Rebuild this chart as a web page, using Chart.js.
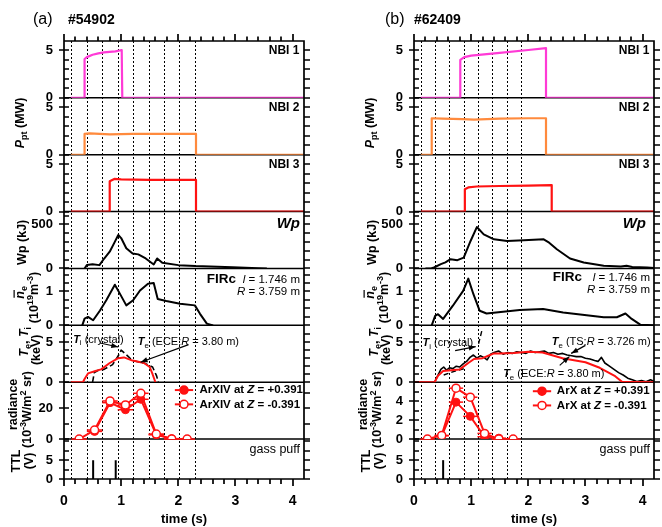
<!DOCTYPE html>
<html>
<head>
<meta charset="utf-8">
<title>Discharge waveforms #54902 and #62409</title>
<script src="https://cdn.jsdelivr.net/npm/chart.js@4.4.1/dist/chart.umd.min.js"></script>
<style>
  html, body { margin: 0; padding: 0; background: #fff; }
  #fig { position: relative; width: 662px; height: 527px; overflow: hidden; }
  #fig canvas { position: absolute; top: 0; }
</style>
</head>
<body>
<div id="fig">
  <canvas id="colA" width="331" height="527" style="left:0"></canvas>
  <canvas id="colB" width="331" height="527" style="left:331px"></canvas>
</div>
<script>
const FONT = '"Liberation Sans", Arial, Helvetica, sans-serif';
const MAGENTA = '#ff3ad6', ORANGE = '#ff8a3d', RED = '#ff1212';

// ---------- axes ----------
const timeLabels = [0, 1, 2, 3, 4];
const timeMinorStep = 0.2;
const panelIds = ['nbi1', 'nbi2', 'nbi3', 'wp', 'ne', 'te', 'rad', 'ttl'];
const panelWeights = [57, 57, 57, 57, 57, 57, 57, 40];
const panelMaxA = [6, 6, 6, 645, 1.68, 7.1, 37, 10.6];
const panelMaxB = [6, 6, 6, 645, 1.68, 7.1, 6, 10.6];
const minorStepA = [1, 1, 1, 100, 0.25, 1, 10, 2.5];
const minorStepB = [1, 1, 1, 100, 0.25, 1, 1, 2.5];
const tickLabelsA = [[0, 5], [0, 5], [0, 5], [0, 500], [0, 1], [0, 5], [0, 20], [0, 5]];
const tickLabelsB = [[0, 5], [0, 5], [0, 5], [0, 500], [0, 1], [0, 5], [0, 2, 4], [0, 5]];

// ---------- shot #54902 ----------
const dotTimesA = [0.13, 0.40, 0.67, 0.94, 1.21, 1.48, 1.75, 2.02, 2.29];
const nbi1TimeA = [0.12, 0.36, 0.36, 0.40, 0.50, 0.60, 0.70, 0.80, 0.90, 0.97, 1.01, 1.02, 4.2];
const nbi1PowA  = [0, 0, 4.1, 4.3, 4.55, 4.7, 4.8, 4.85, 4.9, 5.0, 5.05, 0, 0];
const nbi2TimeA = [0.12, 0.36, 0.36, 0.45, 0.80, 1.20, 1.60, 2.00, 2.31, 2.31, 4.2];
const nbi2PowA  = [0, 0, 2.2, 2.25, 2.15, 2.2, 2.2, 2.2, 2.2, 0, 0];
const nbi3TimeA = [0.12, 0.80, 0.80, 0.88, 1.00, 1.50, 2.00, 2.31, 2.31, 4.2];
const nbi3PowA  = [0, 0, 3.2, 3.45, 3.4, 3.35, 3.35, 3.35, 0, 0];
const wpTimeA = [0.36, 0.40, 0.50, 0.62, 0.70, 0.80, 0.88, 0.95, 1.00, 1.09, 1.20, 1.30, 1.43, 1.57, 1.63, 1.72, 2.00, 2.30, 2.95, 3.40, 3.55];
const wpValA  = [0, 40, 48, 38, 110, 190, 290, 380, 345, 230, 170, 160, 114, 45, 114, 64, 38, 27, 15, 4, 0];
const neTimeA = [0.32, 0.36, 0.42, 0.51, 0.63, 0.74, 0.89, 0.98, 1.09, 1.21, 1.33, 1.47, 1.57, 1.64, 1.79, 2.03, 2.29, 2.38, 2.50, 2.61];
const neValA  = [0, 0.2, 0.25, 0.15, 0.44, 0.74, 1.2, 0.93, 0.59, 0.74, 1.03, 1.23, 1.25, 0.78, 0.72, 0.64, 0.59, 0.34, 0.05, 0];
const teTimeA = [0.12, 0.33, 0.36, 0.42, 0.55, 0.65, 0.80, 0.95, 1.05, 1.20, 1.40, 1.50, 1.55, 1.60];
const teValA  = [0, 0, 0.4, 1.1, 1.4, 1.6, 2.4, 3.0, 3.1, 2.7, 2.4, 1.9, 1.0, 0];
const tiTimeA = [0.50, 0.53, 0.60, 0.70, 0.85, 0.95, 1.00, 1.08, 1.20, 1.40, 1.55, 1.62, 1.65];
const tiValA  = [0, 1.2, 1.5, 1.6, 2.2, 3.3, 4.0, 3.5, 2.7, 2.4, 1.9, 0.8, 0];
const radTimeA = [0.265, 0.535, 0.805, 1.075, 1.345, 1.615, 1.885, 2.155];
const radNegA  = [0, 5.9, 24.8, 22.2, 29.8, 3.3, 0, 0];
const radPosA  = [null, 5.0, 23.7, 19.1, 25.9, 2.8, 0.3, null];
const ttlTimeA = [0.51, 0.905];
const ttlLevelA = [5, 5];

// ---------- shot #62409 ----------
const dotTimesB = [0.12, 0.37, 0.62, 0.87, 1.12, 1.37, 1.62, 1.87];
const nbi1TimeB = [0.12, 0.81, 0.81, 0.88, 1.00, 1.50, 2.00, 2.31, 2.31, 4.2];
const nbi1PowB  = [0, 0, 4.0, 4.3, 4.45, 4.75, 5.05, 5.25, 0, 0];
const nbi2TimeB = [0.12, 0.31, 0.31, 0.50, 0.85, 1.05, 1.50, 2.00, 2.31, 2.31, 4.2];
const nbi2PowB  = [0, 0, 3.85, 3.8, 3.75, 3.7, 3.8, 3.85, 3.85, 0, 0];
const nbi3TimeB = [0.12, 0.89, 0.89, 0.95, 1.10, 1.50, 2.00, 2.41, 2.41, 4.2];
const nbi3PowB  = [0, 0, 2.35, 2.55, 2.65, 2.7, 2.75, 2.8, 0, 0];
const wpTimeB = [0.20, 0.30, 0.35, 0.47, 0.55, 0.64, 0.76, 0.87, 0.99, 1.10, 1.22, 1.40, 1.63, 1.92, 2.27, 2.35, 2.50, 2.73, 2.97, 3.32, 3.62, 3.72, 3.82, 4.08, 4.20];
const wpValB  = [0, 0, 11, 49, 70, 105, 94, 124, 312, 470, 387, 331, 312, 320, 331, 300, 218, 113, 68, 30, 22, 30, 18, 11, 5];
const neTimeB = [0.31, 0.37, 0.42, 0.51, 0.68, 0.86, 0.95, 1.04, 1.15, 1.27, 1.85, 2.26, 2.61, 3.32, 3.55, 3.70, 3.81, 3.96, 4.20];
const neValB  = [0, 0.28, 0.33, 0.19, 0.58, 1.02, 1.38, 0.92, 0.43, 0.35, 0.45, 0.48, 0.38, 0.24, 0.24, 0.35, 0.19, 0.02, 0];
const teEceTimeB = [0, 0.36, 0.42, 0.51, 0.65, 0.80, 0.95, 1.05, 1.20, 1.30, 1.40, 1.50, 1.75, 2.00, 2.25, 2.60, 3.00, 3.25, 3.52, 3.64, 4.2];
const teEceValB  = [0, 0, 0.8, 1.4, 1.5, 1.6, 2.4, 2.9, 3.0, 3.3, 3.6, 3.6, 3.65, 3.8, 3.7, 3.0, 2.5, 1.8, 0.75, 0.05, 0];
const teTsTimeB = [0.00, 0.36, 0.42, 0.47, 0.52, 0.57, 0.62, 0.68, 0.74, 0.80, 0.86, 0.92, 0.98, 1.04, 1.10, 1.16, 1.22, 1.28, 1.34, 1.40, 1.48, 1.56, 1.64, 1.72, 1.80, 1.88, 1.96, 2.04, 2.12, 2.20, 2.28, 2.36, 2.44, 2.52, 2.60, 2.68, 2.76, 2.84, 2.92, 3.00, 3.08, 3.16, 3.22, 3.28, 3.34, 3.42, 3.50, 3.58, 3.66, 3.74, 3.82, 3.90, 3.98, 4.06, 4.14, 4.20];
const teTsValB  = [0, 0, 0.9, 1.6, 1.9, 1.5, 1.8, 1.7, 2.0, 1.9, 2.3, 2.6, 3.1, 3.4, 3.0, 3.3, 3.1, 2.8, 3.5, 3.7, 3.9, 3.5, 3.7, 3.6, 3.8, 3.7, 3.6, 3.9, 3.7, 3.8, 3.9, 3.6, 3.7, 3.5, 3.6, 3.4, 3.3, 3.2, 3.2, 3.0, 2.9, 2.7, 2.6, 3.1, 2.4, 2.0, 1.6, 1.2, 0.9, 0.5, 0.3, 0.1, 0.2, 0.05, 0.3, 0.1];
const tiTimeB = [0.52, 0.60, 0.72, 0.88, 1.00, 1.13, 1.19];
const tiValB  = [0.9, 1.1, 1.4, 1.7, null, 4.8, 6.5];
const radTimeB = [0.235, 0.485, 0.735, 0.985, 1.235, 1.485, 1.735];
const radNegB  = [0, 0.39, 5.37, 4.42, 0.6, 0, 0];
const radPosB  = [null, 0.35, 3.9, 2.4, 0.25, 0.1, null];
const ttlTimeB = [0.51];
const ttlLevelB = [5];

// ---------- helpers ----------
function trace(xs, ys, axis, color, width, more) {
  return Object.assign({
    data: xs.map((x, i) => ({ x: x, y: ys[i] })),
    yAxisID: axis, borderColor: color, backgroundColor: color,
    borderWidth: width, pointRadius: 0, fill: false
  }, more || {});
}
// gate pulses drawn as vertical strokes from 0 up to the pulse level
function pulses(ts, hs, axis) {
  const d = [];
  ts.forEach((t, i) => { d.push({ x: t, y: 0 }, { x: t, y: hs[i] }, { x: t, y: null }); });
  return { data: d, yAxisID: axis, borderColor: '#000', borderWidth: 2, pointRadius: 0 };
}
function openMarks(err) {
  return { pointRadius: 4, pointBackgroundColor: '#fff', pointBorderColor: RED, pointBorderWidth: 1.5, xErr: err };
}
function filledMarks(err) {
  return { pointRadius: 4, pointBackgroundColor: RED, pointBorderColor: RED, pointBorderWidth: 1, xErr: err };
}

// text runs: [text, flags]  i=italic r=regular b=subscript p=superscript o=overline
function rich(ctx, parts, x, y, size, align, rotate) {
  ctx.save();
  ctx.translate(x, y);
  if (rotate) ctx.rotate(-Math.PI / 2);
  const fonts = parts.map(p => {
    const f = p[1] || '';
    const s = (f.includes('b') || f.includes('p')) ? size * 0.72 : size;
    return (f.includes('i') ? 'italic ' : '') + (f.includes('r') ? '' : 'bold ') + s + 'px ' + FONT;
  });
  let w = 0;
  parts.forEach((p, k) => { ctx.font = fonts[k]; w += ctx.measureText(p[0]).width; });
  let cx = align === 'center' ? -w / 2 : (align === 'right' ? -w : 0);
  ctx.textAlign = 'left';
  ctx.textBaseline = 'middle';
  ctx.fillStyle = '#000';
  ctx.strokeStyle = '#000';
  parts.forEach((p, k) => {
    const f = p[1] || '';
    ctx.font = fonts[k];
    const dy = f.includes('b') ? size * 0.32 : (f.includes('p') ? -size * 0.38 : 0);
    const pw = ctx.measureText(p[0]).width;
    ctx.fillText(p[0], cx, dy);
    if (f.includes('o')) {
      ctx.lineWidth = 1.2;
      ctx.beginPath(); ctx.moveTo(cx + 1, -size * 0.55); ctx.lineTo(cx + pw + 1, -size * 0.55); ctx.stroke();
    }
    cx += pw;
  });
  ctx.restore();
}
function seg(ctx, x1, y1, x2, y2) {
  ctx.beginPath(); ctx.moveTo(x1, y1); ctx.lineTo(x2, y2); ctx.stroke();
}
function arrow(ctx, x1, y1, x2, y2) {
  ctx.lineWidth = 1.2;
  seg(ctx, x1, y1, x2, y2);
  const a = Math.atan2(y2 - y1, x2 - x1), L = 7, W = 2.6;
  ctx.beginPath();
  ctx.moveTo(x2, y2);
  ctx.lineTo(x2 - L * Math.cos(a) + W * Math.sin(a), y2 - L * Math.sin(a) - W * Math.cos(a));
  ctx.lineTo(x2 - L * Math.cos(a) - W * Math.sin(a), y2 - L * Math.sin(a) + W * Math.cos(a));
  ctx.closePath(); ctx.fill();
}

// y-axis titles, shared by both columns
const yTitles = [
  { panel: 'nbi2', frac: 0.56, dx: -43, parts: [['P', 'i'], ['pt', 'b'], [' (MW)', '']] },
  { panel: 'wp', frac: 0.46, dx: -41, parts: [['Wp (kJ)', '']] },
  { panel: 'ne', frac: 0.58, dx: -43, parts: [['n', 'io'], ['e', 'b']] },
  { panel: 'ne', frac: 0.49, dx: -29, parts: [['(10', ''], ['19', 'p'], ['m', ''], ['-3', 'p'], [')', '']] },
  { panel: 'te', frac: 0.71, dx: -39, parts: [['T', 'i'], ['e', 'b'], [', ', ''], ['T', 'i'], ['i', 'b']] },
  { panel: 'te', frac: 0.57, dx: -27, parts: [['(keV)', '']] },
  { panel: 'rad', frac: 0.61, dx: -50, parts: [['radiance', '']] },
  { panel: 'rad', frac: 0.52, dx: -36, parts: [['(10', ''], ['-3', 'p'], ['W/m', ''], ['2', 'p'], [' sr)', '']] },
  { panel: 'ttl', frac: 0.45, dx: -47, parts: [['TTL', '']] },
  { panel: 'ttl', frac: 0.45, dx: -34, parts: [['(V)', '']] }
];

const colA = {
  canvas: 'colA', left: 64, right: 304,
  max: panelMaxA, step: minorStepA, labels: tickLabelsA, dots: dotTimesA,
  tag: '(a)', tagX: 33, shot: '#54902', shotX: 68,
  datasets: [
    trace(radTimeA, radNegA, 'rad', RED, 2, openMarks(0.135)),
    trace(radTimeA, radPosA, 'rad', RED, 2, filledMarks(0.135)),
    trace(teTimeA, teValA, 'te', RED, 2),
    trace(tiTimeA, tiValA, 'te', '#000', 1.6, { borderDash: [6, 3] }),
    trace(wpTimeA, wpValA, 'wp', '#000', 2),
    trace(neTimeA, neValA, 'ne', '#000', 2),
    trace(nbi1TimeA, nbi1PowA, 'nbi1', MAGENTA, 2.2),
    trace(nbi2TimeA, nbi2PowA, 'nbi2', ORANGE, 2.2),
    trace(nbi3TimeA, nbi3PowA, 'nbi3', RED, 2.2),
    pulses(ttlTimeA, ttlLevelA, 'ttl')
  ],
  notes: [
    { panel: 'nbi1', t: 4.12, v: 5.0, size: 12, align: 'right', parts: [['NBI 1', '']] },
    { panel: 'nbi2', t: 4.12, v: 5.0, size: 12, align: 'right', parts: [['NBI 2', '']] },
    { panel: 'nbi3', t: 4.12, v: 5.0, size: 12, align: 'right', parts: [['NBI 3', '']] },
    { panel: 'wp', t: 4.13, v: 510, size: 15, align: 'right', parts: [['Wp', 'i']] },
    { panel: 'ne', t: 2.5, v: 1.35, size: 13.5, align: 'left', parts: [['FIRc', '']] },
    { panel: 'ne', t: 4.13, v: 1.35, size: 11.5, align: 'right', parts: [['l', 'ir'], [' = 1.746 m', 'r']] },
    { panel: 'ne', t: 4.13, v: 0.98, size: 11.5, align: 'right', parts: [['R', 'ir'], [' = 3.759 m', 'r']] },
    { panel: 'ttl', t: 4.13, v: 7.9, size: 12.5, align: 'right', parts: [['gass puff', 'r']] },
    { panel: 'te', t: 0.16, v: 5.3, size: 11, align: 'left', parts: [['T', 'i'], ['i', 'br'], [' (crystal)', 'r']] },
    { panel: 'te', t: 1.29, v: 5.0, size: 11, align: 'left', parts: [['T', 'i'], ['e', 'br'], [' (ECE:', 'r'], ['R', 'ir'], [' = 3.80 m)', 'r']] }
  ],
  arrows: [
    { panel: 'te', from: [0.63, 4.9], to: [0.95, 4.4] },
    { panel: 'te', from: [2.18, 4.7], to: [1.34, 2.5] }
  ],
  legend: { t1: 1.94, t2: 2.26, tText: 2.37, vFilled: 31.9, vOpen: 22.6, name: 'ArXIV' }
};

const colB = {
  canvas: 'colB', left: 83, right: 323,
  max: panelMaxB, step: minorStepB, labels: tickLabelsB, dots: dotTimesB,
  tag: '(b)', tagX: 54, shot: '#62409', shotX: 83,
  datasets: [
    trace(radTimeB, radNegB, 'rad', RED, 2, openMarks(0.125)),
    trace(radTimeB, radPosB, 'rad', RED, 2, filledMarks(0.125)),
    trace(teEceTimeB, teEceValB, 'te', RED, 2),
    trace(teTsTimeB, teTsValB, 'te', '#000', 1.6),
    trace(tiTimeB, tiValB, 'te', '#000', 1.4, { borderDash: [5, 3] }),
    trace(wpTimeB, wpValB, 'wp', '#000', 2),
    trace(neTimeB, neValB, 'ne', '#000', 2),
    trace(nbi1TimeB, nbi1PowB, 'nbi1', MAGENTA, 2.2),
    trace(nbi2TimeB, nbi2PowB, 'nbi2', ORANGE, 2.2),
    trace(nbi3TimeB, nbi3PowB, 'nbi3', RED, 2.2),
    pulses(ttlTimeB, ttlLevelB, 'ttl')
  ],
  notes: [
    { panel: 'nbi1', t: 4.12, v: 5.0, size: 12, align: 'right', parts: [['NBI 1', '']] },
    { panel: 'nbi2', t: 4.12, v: 5.0, size: 12, align: 'right', parts: [['NBI 2', '']] },
    { panel: 'nbi3', t: 4.12, v: 5.0, size: 12, align: 'right', parts: [['NBI 3', '']] },
    { panel: 'wp', t: 4.06, v: 510, size: 15, align: 'right', parts: [['Wp', 'i']] },
    { panel: 'ne', t: 2.43, v: 1.41, size: 13.5, align: 'left', parts: [['FIRc', '']] },
    { panel: 'ne', t: 4.13, v: 1.41, size: 11.5, align: 'right', parts: [['l', 'ir'], [' = 1.746 m', 'r']] },
    { panel: 'ne', t: 4.13, v: 1.05, size: 11.5, align: 'right', parts: [['R', 'ir'], [' = 3.759 m', 'r']] },
    { panel: 'ttl', t: 4.13, v: 7.9, size: 12.5, align: 'right', parts: [['gass puff', 'r']] },
    { panel: 'te', t: 0.15, v: 4.9, size: 11, align: 'left', parts: [['T', 'i'], ['i', 'br'], [' (crystal)', 'r']] },
    { panel: 'te', t: 2.41, v: 5.0, size: 11, align: 'left', parts: [['T', 'i'], ['e', 'br'], [' (TS:', 'r'], ['R', 'ir'], [' = 3.726 m)', 'r']] },
    { panel: 'te', t: 1.56, v: 1.0, size: 11, align: 'left', parts: [['T', 'i'], ['e', 'br'], [' (ECE:', 'r'], ['R', 'ir'], [' = 3.80 m)', 'r']] }
  ],
  arrows: [
    { panel: 'te', from: [0.72, 3.95], to: [1.08, 4.45] },
    { panel: 'te', from: [3.0, 4.6], to: [2.75, 3.6] },
    { panel: 'te', from: [2.55, 2.1], to: [2.72, 3.2] }
  ],
  legend: { t1: 2.08, t2: 2.4, tText: 2.5, vFilled: 5.05, vOpen: 3.55, name: 'ArX' }
};

const AXIS_W = 40;

// tick positions of one panel: every multiple of the minor step up to the panel top
function panelTickValues(col, k) {
  const out = [];
  const n = Math.floor(col.max[k] / col.step[k] + 1e-6);
  for (let i = 0; i <= n; i++) out.push(Math.round(i * col.step[k] * 1000) / 1000);
  return out;
}

// frame and tick marks of the stacked panels, built as one path
function drawFrame(chart, col) {
  const ctx = chart.ctx, a = chart.chartArea, xs = chart.scales.x;
  const L = Math.round(a.left), R = Math.round(a.right), T = Math.round(a.top), B = Math.round(a.bottom);
  ctx.save();
  ctx.setLineDash([]);
  ctx.strokeStyle = '#000';
  ctx.lineWidth = 1.7;
  ctx.beginPath();
  ctx.rect(L, T, R - L, B - T);
  panelIds.forEach((id, k) => {
    const s = chart.scales[id];
    panelTickValues(col, k).forEach(v => {
      const py = Math.round(s.getPixelForValue(v));
      if (py < s.top + 1.5) return;
      const major = col.labels[k].indexOf(v) >= 0;
      ctx.moveTo(major ? L - 5 : L, py); ctx.lineTo(L + 5, py);
      ctx.moveTo(R, py); ctx.lineTo(R + 6, py);
    });
  });
  for (let k = 0; k * timeMinorStep <= 4.0001; k++) {
    const px = Math.round(xs.getPixelForValue(k * timeMinorStep));
    const major = k % 5 === 0;
    ctx.moveTo(px, T); ctx.lineTo(px, T - (major ? 7 : 4.5));
    ctx.moveTo(px, B); ctx.lineTo(px, B + (major ? 7 : 5));
  }
  ctx.stroke();
  ctx.restore();
}

function decor(col) {
  return {
    id: 'decor',
    beforeDatasetsDraw(chart) {
      const ctx = chart.ctx, a = chart.chartArea, xs = chart.scales.x;
      ctx.save();
      ctx.strokeStyle = '#000';
      // sampling windows
      ctx.lineWidth = 1;
      ctx.setLineDash([2, 2]);
      col.dots.forEach(t => {
        const px = Math.round(xs.getPixelForValue(t)) + 0.5;
        seg(ctx, px, a.top, px, a.bottom);
      });
      ctx.setLineDash([]);
      // panel separators
      ctx.lineWidth = 1.5;
      panelIds.slice(0, -1).forEach(p => {
        const y = chart.scales[p].bottom;
        seg(ctx, a.left, y, a.right, y);
      });
      // horizontal error bars of the radiance points
      ctx.strokeStyle = RED;
      ctx.lineWidth = 1.5;
      chart.data.datasets.forEach(ds => {
        if (!ds.xErr) return;
        const ys = chart.scales[ds.yAxisID];
        ds.data.forEach(d => {
          if (d.y === null) return;
          const py = ys.getPixelForValue(d.y);
          seg(ctx, xs.getPixelForValue(d.x - ds.xErr), py, xs.getPixelForValue(d.x + ds.xErr), py);
        });
      });
      ctx.restore();
    },
    afterDraw(chart) {
      const ctx = chart.ctx, a = chart.chartArea, xs = chart.scales.x;
      const X = t => xs.getPixelForValue(t);
      const Y = (p, v) => chart.scales[p].getPixelForValue(v);
      drawFrame(chart, col);
      ctx.save();
      // header
      ctx.fillStyle = '#000';
      ctx.textBaseline = 'middle';
      ctx.textAlign = 'left';
      ctx.font = '16px ' + FONT;
      ctx.fillText(col.tag, col.tagX, 20);
      ctx.font = 'bold 14px ' + FONT;
      ctx.fillText(col.shot, col.shotX, 20);
      // y titles
      yTitles.forEach(tt => {
        const s = chart.scales[tt.panel];
        const y = s.bottom - tt.frac * (s.bottom - s.top);
        rich(ctx, tt.parts, a.left + tt.dx, y, 12.5, 'center', true);
      });
      // panel notes
      col.notes.forEach(n => rich(ctx, n.parts, X(n.t), Y(n.panel, n.v), n.size, n.align, false));
      // arrows
      ctx.strokeStyle = '#000';
      ctx.fillStyle = '#000';
      col.arrows.forEach(r => arrow(ctx, X(r.from[0]), Y(r.panel, r.from[1]), X(r.to[0]), Y(r.panel, r.to[1])));
      // radiance legend
      const L = col.legend;
      [[L.vFilled, true, '+0.391'], [L.vOpen, false, '-0.391']].forEach(row => {
        const py = Y('rad', row[0]);
        ctx.strokeStyle = RED;
        ctx.lineWidth = 2;
        seg(ctx, X(L.t1), py, X(L.t2), py);
        ctx.beginPath();
        ctx.arc((X(L.t1) + X(L.t2)) / 2, py, 4, 0, Math.PI * 2);
        ctx.fillStyle = row[1] ? RED : '#fff';
        ctx.fill();
        ctx.lineWidth = 1.5;
        ctx.stroke();
        rich(ctx, [[L.name + ' at ', ''], ['Z', 'i'], [' = ' + row[2], '']], X(L.tText), py, 11.5, 'left', false);
      });
      ctx.restore();
    }
  };
}

function yScale(col, p, k) {
  return {
    type: 'linear', position: 'left', stack: 'panels',
    stackWeight: panelWeights[k], weight: panelIds.length - k,
    min: 0, max: col.max[k], bounds: 'data',
    grid: { display: false, drawTicks: false }, border: { display: false },
    ticks: { font: { family: FONT, weight: 'bold', size: 13 }, color: '#000', padding: 11, autoSkip: false,
             callback: v => String(v) },
    afterBuildTicks: s => { s.ticks = col.labels[k].map(v => ({ value: v })); },
    afterFit: s => { s.width = AXIS_W; }
  };
}

function build(col) {
  const scales = {
    x: {
      type: 'linear', position: 'bottom', min: 0, max: 4.2, bounds: 'data',
      grid: { display: false, drawTicks: false }, border: { display: false },
      ticks: { font: { family: FONT, weight: 'bold', size: 14 }, color: '#000', padding: 14,
               maxRotation: 0, autoSkip: false, callback: v => String(v) },
      afterBuildTicks: s => { s.ticks = timeLabels.map(v => ({ value: v })); },
      title: { display: true, text: 'time (s)', color: '#000',
               font: { family: FONT, weight: 'bold', size: 13 }, padding: { top: 0, bottom: 0 } },
      afterFit: s => { s.height = 48; }
    }
  };
  panelIds.forEach((p, k) => { scales[p] = yScale(col, p, k); });
  return new Chart(document.getElementById(col.canvas), {
    type: 'line',
    data: { datasets: col.datasets },
    options: {
      responsive: false, animation: false, devicePixelRatio: 1, events: [],
      layout: { padding: { left: col.left - AXIS_W, right: 331 - col.right, top: 41, bottom: 0 } },
      plugins: { legend: { display: false }, tooltip: { enabled: false } },
      elements: { line: { tension: 0, borderJoinStyle: 'round' }, point: { radius: 0 } },
      scales: scales
    },
    plugins: [decor(col)]
  });
}

build(colA);
build(colB);
</script>
</body>
</html>
